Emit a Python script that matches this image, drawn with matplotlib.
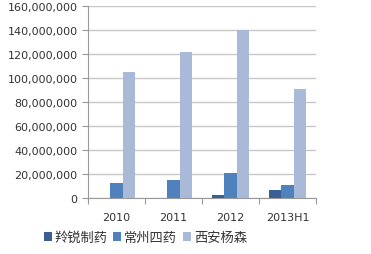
import numpy as np
import matplotlib.pyplot as plt

plt.rcParams['font.family'] = ['DejaVu Sans', 'Noto Sans CJK SC']

years = ['2010', '2011', '2012', '2013H1']
names = ['羚锐制药', '常州四药', '西安杨森']
lingrui = [0, 0, 2.5e6, 7e6]
changzhou = [12.5e6, 15e6, 20.5e6, 11e6]
xian = [105e6, 121.5e6, 140e6, 90.5e6]
colors = ['#3A5F94', '#4F81BD', '#A9BAD9']

fig = plt.figure(figsize=(3.71, 2.55), dpi=100)
ax = fig.add_axes([88/371, 1-199/255, 228/371, 192/255])

x = np.arange(len(years))
w = 0.22
for i, (vals, nm) in enumerate(zip([lingrui, changzhou, xian], names)):
    ax.bar(x + (i-1)*w, vals, w, color=colors[i], label=nm, zorder=3)

ax.set_xlim(-0.5, 3.5)
ax.set_ylim(0, 160e6)
ax.set_yticks(np.arange(0, 160e6+1, 20e6))
ax.set_yticklabels(['{:,}'.format(int(v)) for v in np.arange(0, 160e6+1, 20e6)], fontsize=8, color='#333333')
ax.yaxis.grid(True, color='#c8c8c8', linewidth=1, zorder=0)
ax.set_xticks(np.arange(-0.5, 3.6, 1))
ax.set_xticklabels([])
ax.set_xticks(x, minor=True)
ax.set_xticklabels(years, minor=True, fontsize=8, color='#333333')
ax.tick_params(axis='x', which='major', length=4, color='#999999')
ax.tick_params(axis='x', which='minor', length=0, pad=10)
ax.tick_params(axis='y', length=4, color='#999999')
for s in ['top', 'right']:
    ax.spines[s].set_visible(False)
ax.spines['left'].set_color('#999999')
ax.spines['bottom'].set_color('#999999')

ax.legend(loc='upper left', bbox_to_anchor=(-0.235, -0.125), ncol=3, frameon=False,
          handlelength=0.6, handleheight=0.6, handletextpad=0.25,
          columnspacing=0.4, borderpad=0.2, prop={'family': ['Noto Sans CJK SC'], 'size': 9.5},
          labelcolor='#333333')

fig.savefig('out.png', dpi=100)
